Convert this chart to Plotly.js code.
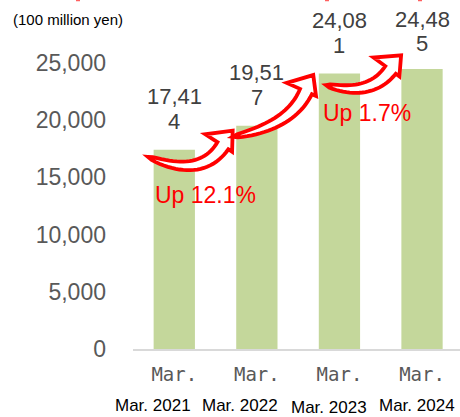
<!DOCTYPE html>
<html>
<head>
<meta charset="utf-8">
<script src="https://cdn.plot.ly/plotly-3.0.1.min.js"></script>
<style>html,body{margin:0;padding:0;background:#fff;}#chart{width:460px;height:417px;}</style>
</head>
<body>
<div id="chart"></div>
<script>
// ---- data ----
const categories = ['Mar. 2021', 'Mar. 2022', 'Mar. 2023', 'Mar. 2024'];
const values = [17414, 19517, 24081, 24485];
const shortTicks = ['Mar.', 'Mar.', 'Mar.', 'Mar.'];
const growthText = ['Up 12.1%', '', 'Up 1.7%'];
const unitLabel = '(100 million yen)';

// ---- layout geometry (pixels) ----
const W = 460, H = 417;
const M = {l: 133, r: 0, t: 63, b: 68};
const PW = W - M.l - M.r, PH = H - M.t - M.b;
const XR = [-0.5, 3.46], YR = [0, 25000];
const pxX = i => M.l + (i - XR[0]) / (XR[1] - XR[0]) * PW;
const pxY = v => M.t + PH * (1 - (v - YR[0]) / (YR[1] - YR[0]));
const toPX = x => (x - M.l) / PW;
const toPY = y => (M.t + PH - y) / PH;

const annotations = [];
const shapes = [];

// unit label
annotations.push({xref: 'paper', yref: 'paper', x: toPX(11), y: toPY(20), xanchor: 'left', yanchor: 'middle',
  text: unitLabel, showarrow: false, font: {family: 'Liberation Sans, Arial, sans-serif', size: 15, color: '#000'}});

// value labels (wrapped like the original)
values.forEach((v, i) => {
  const s = v.toLocaleString('en-US');
  const top = pxY(v);
  const y1 = Math.max(top - 53, 19);
  const lines = [s.slice(0, 5), s.slice(5)];
  [y1, y1 + 25].forEach((yy, k) => {
    annotations.push({xref: 'paper', yref: 'paper', x: toPX(pxX(i)), y: toPY(yy), xanchor: 'center', yanchor: 'middle',
      text: lines[k], showarrow: false, font: {family: 'Liberation Sans, Arial, sans-serif', size: 22, color: '#404040'}});
  });
});

// second row of category labels
const rowX = [152.5, 240, 329, 416.5];
const rowY = [405, 405, 407, 405];
categories.forEach((c, i) => {
  annotations.push({xref: 'paper', yref: 'paper', x: toPX(rowX[i]), y: toPY(rowY[i]), xanchor: 'center', yanchor: 'middle',
    text: c, showarrow: false, font: {family: 'Liberation Sans, Arial, sans-serif', size: 17, color: '#000'}});
});

// growth labels
const growthOff = [[31.5, 45], [0, 0], [28, 39.5]];
growthText.forEach((g, i) => {
  if (!g) return;
  annotations.push({xref: 'paper', yref: 'paper', x: toPX(pxX(i) + growthOff[i][0]), y: toPY(pxY(values[i]) + growthOff[i][1]),
    xanchor: 'center', yanchor: 'middle', text: g, showarrow: false,
    font: {family: 'Liberation Sans, Arial, sans-serif', size: 23, color: '#ff0000'}});
});

// curved block arrows between bars
const arrowCfg = [
  {t: [-26.5, 7], b: [-34, 20], ang: -57, s: 40},
  {t: [-24, 11], b: [-33.5, 18], ang: -66, s: 38},
  {t: [-13.5, 11.5], b: [-31.5, 1], ang: -54, s: 34}
];
function arrowPath(T, B, ang, s) {
  const d = [Math.cos(ang * Math.PI / 180), Math.sin(ang * Math.PI / 180)];
  const C = [B[0] - s * d[0], B[1] - s * d[1]];
  const hw = 6.5, s1 = 21, s2 = 11, L = 18;
  const up = [], lo = [];
  const N = 24;
  for (let k = 0; k <= N; k++) {
    const t = k / N;
    const P = [(1 - t) * (1 - t) * T[0] + 2 * t * (1 - t) * C[0] + t * t * B[0],
               (1 - t) * (1 - t) * T[1] + 2 * t * (1 - t) * C[1] + t * t * B[1]];
    let tx = 2 * (1 - t) * (C[0] - T[0]) + 2 * t * (B[0] - C[0]);
    let ty = 2 * (1 - t) * (C[1] - T[1]) + 2 * t * (B[1] - C[1]);
    const nn = Math.hypot(tx, ty); tx /= nn; ty /= nn;
    const n = [-ty, tx];
    const w = hw * Math.pow(t, 0.45);
    up.push([P[0] - n[0] * w, P[1] - n[1] * w]);
    lo.push([P[0] + n[0] * w, P[1] + n[1] * w]);
  }
  const nB = [-d[1], d[0]];
  const pts = up.slice();
  pts.push([B[0] - nB[0] * s1, B[1] - nB[1] * s1]);
  pts.push([B[0] + d[0] * L, B[1] + d[1] * L]);
  pts.push([B[0] + nB[0] * s2, B[1] + nB[1] * s2]);
  lo.slice().reverse().forEach(p => pts.push(p));
  return 'M ' + pts.map(p => toPX(p[0]).toFixed(5) + ',' + toPY(p[1]).toFixed(5)).join(' L ') + ' Z';
}
arrowCfg.forEach((a, i) => {
  const T = [pxX(i) + a.t[0], pxY(values[i]) + a.t[1]];
  const B = [pxX(i + 1) + a.b[0], pxY(values[i + 1]) + a.b[1]];
  shapes.push({type: 'path', xref: 'paper', yref: 'paper', path: arrowPath(T, B, a.ang, a.s),
    fillcolor: '#ffffff', line: {color: '#ff0000', width: 3.8}, layer: 'above'});
});

// tiny cut-off red fragments at the top edge
[[76, 80], [325, 329], [418, 422]].forEach(seg => {
  shapes.push({type: 'line', xref: 'paper', yref: 'paper', x0: toPX(seg[0]), x1: toPX(seg[1]), y0: toPY(0.5), y1: toPY(0.5),
    line: {color: '#ff6060', width: 1.5}});
});

const trace = {
  type: 'bar', x: categories, y: values,
  marker: {color: '#c4d79b'}, hoverinfo: 'skip'
};

const layout = {
  width: W, height: H, margin: M,
  paper_bgcolor: '#fff', plot_bgcolor: '#fff',
  showlegend: false, bargap: 0.5,
  xaxis: {type: 'category', range: XR, tickvals: categories, ticktext: shortTicks,
    showline: true, linecolor: '#d9d9d9', linewidth: 1.5, showgrid: false, zeroline: false, ticks: '',
    ticklabelstandoff: 8,
    tickfont: {family: 'DejaVu Sans Mono, monospace', size: 19, color: '#595959'}},
  yaxis: {range: YR, tickvals: [0, 5000, 10000, 15000, 20000, 25000], tickformat: ',d',
    showgrid: false, zeroline: false, showline: false, ticks: '', ticklabelstandoff: 26,
    tickfont: {family: 'Liberation Sans, Arial, sans-serif', size: 23, color: '#595959'}},
  annotations: annotations, shapes: shapes
};

Plotly.newPlot('chart', [trace], layout, {displayModeBar: false, staticPlot: true});
</script>
</body>
</html>
